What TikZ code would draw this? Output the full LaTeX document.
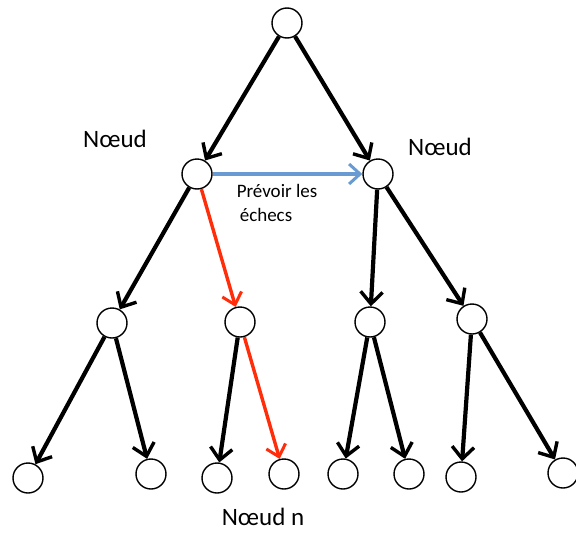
\documentclass[tikz,border=0pt]{standalone}
\usepackage{fontspec}
\setmainfont{Carlito}
\usetikzlibrary{arrows.meta}
\definecolor{redarr}{RGB}{255,45,10}
\definecolor{bluearr}{RGB}{105,155,210}
\tikzset{
  treenode/.style={circle,draw=black,line width=1.4pt,minimum size=30pt,inner sep=0pt,fill=white},
  blk/.style={line width=4.2pt,black,-{Straight Barb[length=12pt,width=22pt,line width=3.4pt]}},
  redl/.style={line width=3.4pt,redarr,-{Straight Barb[length=11pt,width=20pt,line width=3pt]}},
  bluel/.style={line width=3.6pt,bluearr,-{Straight Barb[length=11pt,width=20pt,line width=3pt]}},
  biglabel/.style={font=\fontsize{25}{30}\selectfont,inner sep=0pt},
  smalllabel/.style={font=\fontsize{19}{22}\selectfont,inner sep=0pt}
}
\begin{document}
\begin{tikzpicture}[x=1pt,y=-1pt]
\useasboundingbox (0,0) rectangle (576,533);
\begin{scope}
\clip (0,0) rectangle (576,533);
\node[treenode] (root) at (287,23) {};
\node[treenode] (L) at (197,174) {};
\node[treenode] (R) at (378,174) {};
\node[treenode] (a) at (112,323) {};
\node[treenode] (b) at (240,322) {};
\node[treenode] (c) at (370,322) {};
\node[treenode] (d) at (472,319) {};
\node[treenode] (l1) at (28,478) {};
\node[treenode] (l2) at (151,474) {};
\node[treenode] (l3) at (217,478) {};
\node[treenode] (l4) at (284,474) {};
\node[treenode] (l5) at (343,474) {};
\node[treenode] (l6) at (409,474) {};
\node[treenode] (l7) at (461,477) {};
\node[treenode] (l8) at (563,473) {};

\draw[blk] (root) -- (L);
\draw[blk] (root) -- (R);
\draw[bluel] (L) -- (R);
\draw[blk] (L) -- (a);
\draw[redl] (L) -- (b);
\draw[blk] (R) -- (c);
\draw[blk] (R) -- (d);
\draw[blk] (a) -- (l1);
\draw[blk] (a) -- (l2);
\draw[blk] (b) -- (l3);
\draw[redl] (b) -- (l4);
\draw[blk] (c) -- (l5);
\draw[blk] (c) -- (l6);
\draw[blk] (d) -- (l7);
\draw[blk] (d) -- (l8);
\end{scope}

\node[biglabel] (t1) at (115,139) {Nœud};
\node[biglabel] (t2) at (440,147) {Nœud};
\node[biglabel] (t3) at (263,517) {Nœud n};
\node[smalllabel] (t4) at (277,191) {Prévoir les};
\node[smalllabel] (t5) at (266,215) {échecs};
\end{tikzpicture}
\end{document}
